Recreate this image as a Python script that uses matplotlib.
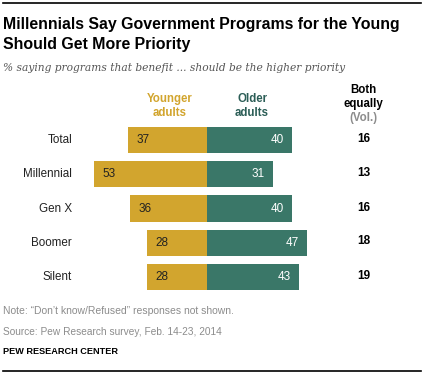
import matplotlib
matplotlib.use("Agg")
import matplotlib.pyplot as plt
from matplotlib.lines import Line2D

categories = ["Total", "Millennial", "Gen X", "Boomer", "Silent"]
younger = [37, 53, 36, 28, 28]
older = [40, 31, 40, 47, 43]
both = [16, 13, 16, 18, 19]

GOLD = "#D2A52E"
GREEN = "#3A7768"
W, H = 424, 376

fig = plt.figure(figsize=(W / 100, H / 100), dpi=100)
fig.patch.set_facecolor("white")

def fx(x):
    return x / W

def fy(y):
    return 1 - y / H

# axes in pixel placement
ax_left, ax_right = 80, 400
ax_top, ax_bot = 123, 294
ax = fig.add_axes([fx(ax_left), fy(ax_bot), (ax_right - ax_left) / W, (ax_bot - ax_top) / H])
scale = 2.13
zero = 207
ax.set_xlim(-(zero - ax_left) / scale, (ax_right - zero) / scale)
step = 34.25
ax.set_ylim(4 + 17 / step, -17 / step)
ax.axis("off")

ypos = list(range(len(categories)))
ax.barh(ypos, [-v for v in younger], height=0.77, color=GOLD, linewidth=0)
ax.barh(ypos, older, height=0.77, color=GREEN, linewidth=0)

font = "Liberation Sans"
for i, (yv, ov) in enumerate(zip(younger, older)):
    ax.text(-yv + 3.7, i, str(yv), ha="left", va="center", fontsize=8.5,
            color="#222222", family=font)
    ax.text(ov - 3.7, i, str(ov), ha="right", va="center", fontsize=8.5,
            color="white", family=font)

# category labels and "both" values in pixel coords
centers = [140, 174, 208.5, 242.5, 277]
for c, cy, b in zip(categories, centers, both):
    fig.text(fx(72), fy(cy), c, ha="right", va="center", fontsize=8.4,
             color="#222222", family=font)
    fig.text(fx(364), fy(cy - 1), str(b), ha="center", va="center", fontsize=8.5,
             color="black", family=font, fontweight="bold")

# headers
fig.text(fx(170), fy(106), "Younger\nadults", ha="center", va="center", fontsize=8.3,
         color=GOLD, family=font, fontweight="bold", linespacing=1.25)
fig.text(fx(252), fy(106), "Older\nadults", ha="center", va="center", fontsize=8.3,
         color="#2C5E57", family=font, fontweight="bold", linespacing=1.25)
fig.text(fx(363), fy(97), "Both\nequally", ha="center", va="center", fontsize=8.3,
         color="black", family=font, fontweight="bold", linespacing=1.25)
fig.text(fx(363), fy(117.5), "(Vol.)", ha="center", va="center", fontsize=8.3,
         color="#8C8C8C", family=font, fontweight="bold")

# title
fig.text(fx(3), fy(25), "Millennials Say Government Programs for the Young",
         ha="left", va="center", fontsize=11.4, fontweight="bold", family=font, color="black")
fig.text(fx(3), fy(44), "Should Get More Priority",
         ha="left", va="center", fontsize=11.4, fontweight="bold", family=font, color="black")
fig.text(fx(3), fy(68), "% saying programs that benefit ... should be the higher priority",
         ha="left", va="center", fontsize=7.7, style="italic", family="DejaVu Serif",
         color="#555555")

# footer
fig.text(fx(3), fy(311), "Note: \u201cDon\u2019t know/Refused\u201d responses not shown.",
         ha="left", va="center", fontsize=7.5, family=font, color="#8C8C8C")
fig.text(fx(3), fy(332), "Source: Pew Research survey, Feb. 14-23, 2014",
         ha="left", va="center", fontsize=7.3, family=font, color="#8C8C8C")
fig.text(fx(3), fy(351), "PEW RESEARCH CENTER",
         ha="left", va="center", fontsize=6.6, family=font, color="black", fontweight="bold")

# rules
fig.add_artist(Line2D([fx(3), fx(421)], [fy(3), fy(3)], color="black", linewidth=1.2,
                      transform=fig.transFigure))
fig.add_artist(Line2D([fx(3), fx(421)], [fy(371), fy(371)], color="black", linewidth=1.2,
                      transform=fig.transFigure))

fig.savefig("out.png", dpi=100, facecolor="white")
